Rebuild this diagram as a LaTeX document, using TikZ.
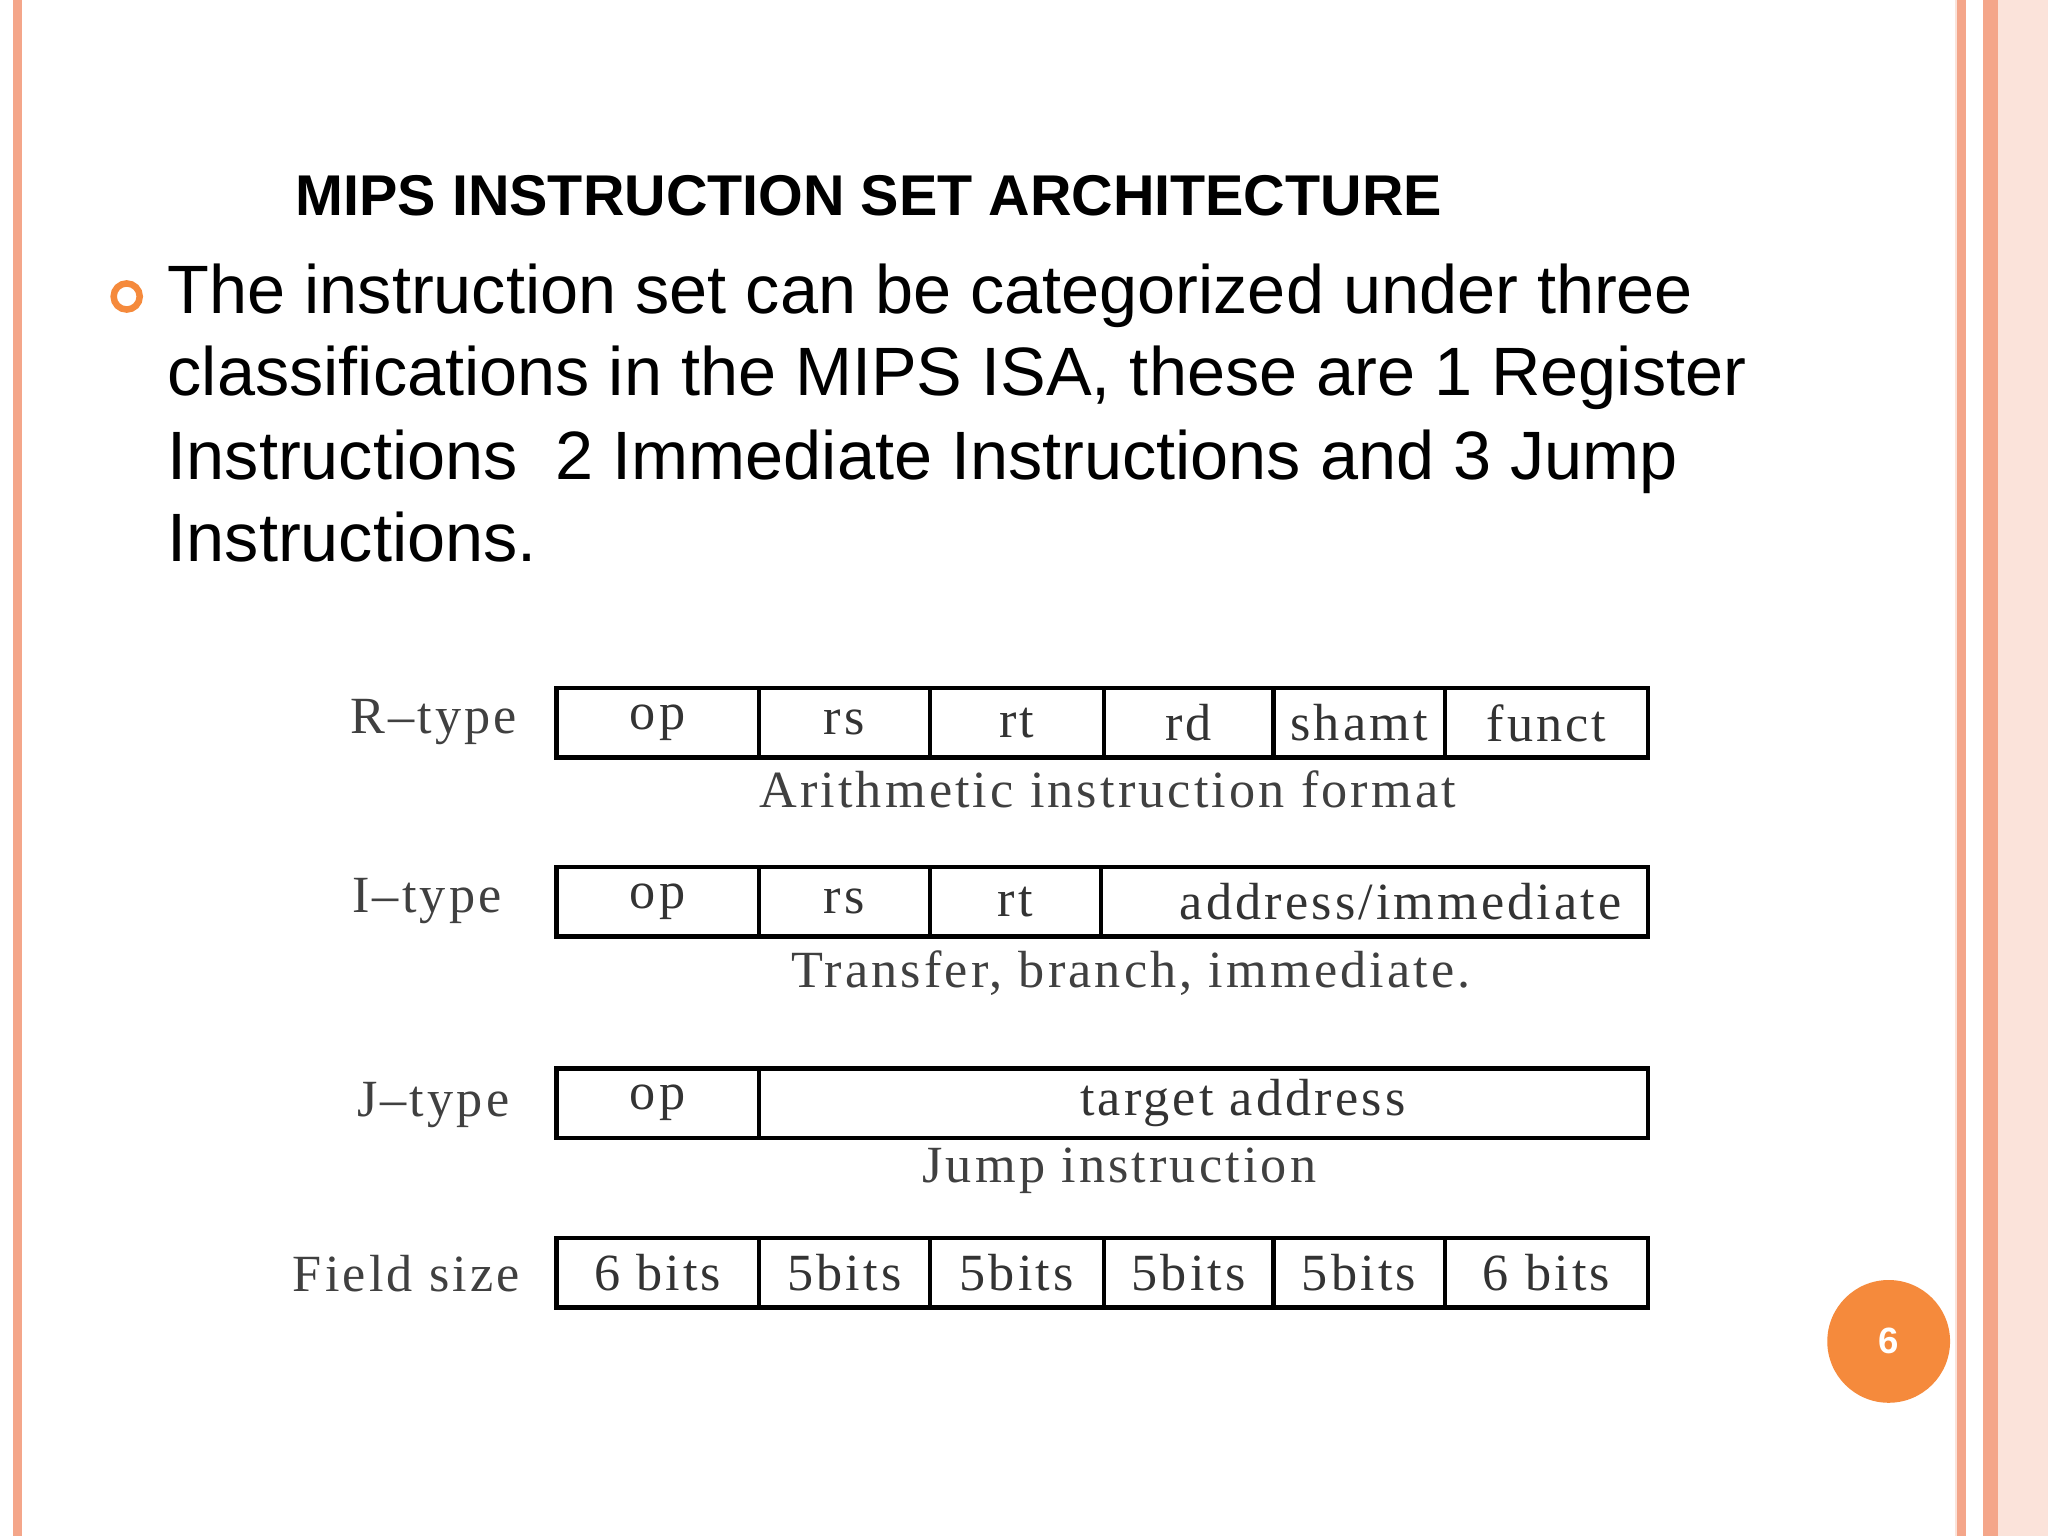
\documentclass[tikz,border=0pt]{standalone}
\usepackage{fontspec}
\setmainfont{Liberation Sans}
\newfontfamily\serifd[LetterSpace=6]{Liberation Serif}
\definecolor{salmon}{HTML}{F4A68A}
\definecolor{palepink}{HTML}{FBE3DA}
\definecolor{orng}{HTML}{F58A3C}
\begin{document}
\begin{tikzpicture}[x=0.5pt,y=-0.5pt,
  fld/.style={draw=black,line width=1.6pt,minimum height=26.5pt,inner sep=0pt,font=\serifd\fontsize{20}{20}\selectfont,text=black!80},
  lab/.style={anchor=east,font=\serifd\fontsize{20}{20}\selectfont,text=black!75},
  captxt/.style={font=\serifd\fontsize{20}{20}\selectfont,text=black!75},
  body/.style={anchor=base west,font=\fontsize{26.2}{26.2}\selectfont,inner sep=0pt}]
\useasboundingbox (0,0) rectangle (1568,1176);
\fill[white] (0,0) rectangle (1568,1176);
% borders
\fill[salmon] (10,0) rectangle (17,1176);
\fill[palepink] (1497,0) rectangle (1568,1176);
\fill[salmon] (1498,0) rectangle (1505,1176);
\fill[salmon] (1518,0) rectangle (1530,1176);
\fill[white] (1505,0) rectangle (1518,1176);
% title
\node[anchor=base west,inner sep=0pt,font=\bfseries\fontsize{22}{22}\selectfont] (title) at (226,165) {MIPS INSTRUCTION SET ARCHITECTURE};
\node[circle,draw=orng,line width=2.5pt,minimum size=10pt,inner sep=0pt] (bul) at (97,227) {};
\node[body] (l1) at (128,240) {The instruction set can be categorized under three};
\node[body] (l2) at (128,303) {classifications in the MIPS ISA, these are 1 Register};
\node[body] (l3) at (128,367) {Instructions\ \ 2 Immediate Instructions and 3 Jump};
\node[body] (l4) at (128,430) {Instructions.};
% R
\foreach \a/\b/\t/\n in {426/581/op/r1,581/712/rs/r2,712/845/rt/r3,845/975/rd/r4,975/1106/shamt/r5,1106/1262/funct/r6}
  \node[fld,minimum width=(\b-\a)*0.5pt] (\n) at ({(\a+\b)/2},553.5) {\t};
\node[lab] (rl) at (403,553) {R–type};
\node[captxt] (rc) at (848,604) {Arithmetic instruction format};
% I
\node[fld,minimum width=77.5pt] (i1) at (503.5,690.5) {op};
\node[fld,minimum width=65.5pt] (i2) at (646.5,690.5) {rs};
\node[fld,minimum width=65.5pt] (i3) at (777.5,690.5) {rt};
\node[fld,minimum width=209.5pt] (i4) at (1052.5,690.5) {\hspace*{20pt}address/immediate};
\node[lab] (il) at (391,690) {I–type};
\node[captxt] (ic) at (866,745) {Transfer, branch, immediate.};
% J
\node[fld,minimum width=77.5pt] (j1) at (503.5,844.5) {op};
\node[fld,minimum width=340.5pt] (j2) at (921.5,844.5) {\hspace*{30pt}target address};
\node[lab] (jl) at (397,846) {J–type};
\node[captxt] (jc) at (857,896) {Jump instruction};
% Field size
\foreach \a/\b/\t/\n in {426/581/6 bits/f1,581/712/5bits/f2,712/845/5bits/f3,845/975/5bits/f4,975/1106/5bits/f5,1106/1262/6 bits/f6}
  \node[fld,minimum width=(\b-\a)*0.5pt] (\n) at ({(\a+\b)/2},974.5) {\t};
\node[lab] (fl) at (405,975) {Field size};
% page number
\node[circle,fill=orng,minimum size=47pt,inner sep=0pt,text=white,font=\bfseries\fontsize{14}{14}\selectfont] (pg) at (1446,1027) {6};
\end{tikzpicture}
\end{document}
